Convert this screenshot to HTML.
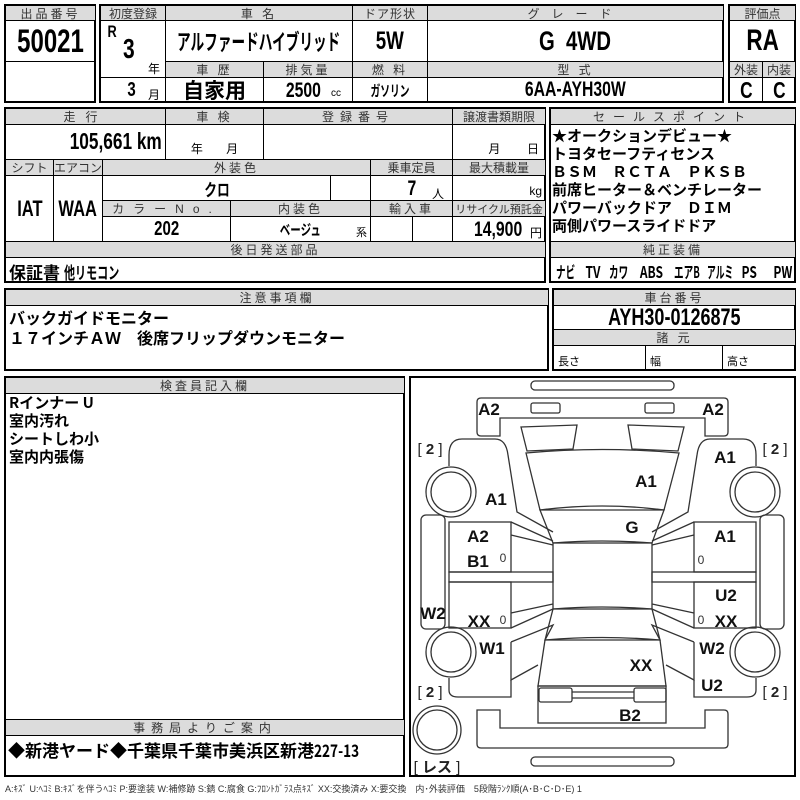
<!DOCTYPE html>
<html><head><meta charset="utf-8">
<style>
body{margin:0;width:800px;height:800px;background:#fff;position:relative;overflow:hidden;font-family:"Liberation Sans","Noto Sans CJK JP",sans-serif;}
.c{position:absolute;border:1px solid #000;box-sizing:border-box;display:flex;align-items:center;justify-content:center;white-space:nowrap;color:#000;overflow:hidden;}
.h{background:#dcdcdc;font-size:12px;color:#333;letter-spacing:3px;}
.v{font-weight:bold;}
.n{display:inline-block;transform:scaleX(0.75);font-weight:bold;}
.o{position:absolute;border:2px solid #000;box-sizing:border-box;}
.t{position:absolute;white-space:nowrap;font-weight:bold;}
</style></head><body>

<div class="o" style="left:4px;top:4px;width:92px;height:99px"></div>
<div class="o" style="left:99px;top:4px;width:625px;height:99px"></div>
<div class="o" style="left:728px;top:4px;width:68px;height:99px"></div>
<div class="o" style="left:4px;top:107px;width:542px;height:176px"></div>
<div class="o" style="left:549px;top:107px;width:247px;height:176px"></div>
<div class="o" style="left:4px;top:288px;width:545px;height:83px"></div>
<div class="o" style="left:552px;top:288px;width:244px;height:83px"></div>
<div class="o" style="left:4px;top:376px;width:401px;height:401px"></div>
<div class="o" style="left:409px;top:376px;width:387px;height:401px"></div>

<div class="c h" style="left:5px;top:5px;width:91px;height:16px">出品番号</div>
<div class="c" style="left:5px;top:20px;width:91px;height:42px;font-size:32px"><span class="n">50021</span></div>
<div class="c" style="left:5px;top:61px;width:91px;height:42px"></div>

<div class="c h" style="left:100px;top:5px;width:66px;height:16px;letter-spacing:0">初度登録</div>
<div class="c h" style="left:165px;top:5px;width:188px;height:16px">車 名</div>
<div class="c h" style="left:352px;top:5px;width:76px;height:16px;letter-spacing:1px">ドア形状</div>
<div class="c h" style="left:427px;top:5px;width:297px;height:16px;letter-spacing:12px">グレード</div>
<div class="c" style="left:100px;top:20px;width:66px;height:58px"></div>
<div class="t" style="left:106px;top:22px;font-size:17px"><span class="n">R</span></div>
<div class="t" style="left:121px;top:33px;font-size:28px"><span class="n">3</span></div>
<div class="t" style="left:148px;top:60px;font-size:12px;font-weight:normal">年</div>
<div class="c" style="left:165px;top:20px;width:188px;height:42px;font-size:22px;font-family:'Noto Sans CJK JP',sans-serif"><span class="n" style="transform:scaleX(0.62)">アルファードハイブリッド</span></div>
<div class="c" style="left:352px;top:20px;width:76px;height:42px;font-size:25px"><span class="n">5W</span></div>
<div class="c" style="left:427px;top:20px;width:297px;height:42px;font-size:27px"><span class="n">G&nbsp;&nbsp;4WD</span></div>
<div class="c h" style="left:165px;top:61px;width:99px;height:17px">車 歴</div>
<div class="c h" style="left:263px;top:61px;width:90px;height:17px">排気量</div>
<div class="c h" style="left:352px;top:61px;width:76px;height:17px">燃 料</div>
<div class="c h" style="left:427px;top:61px;width:297px;height:17px">型 式</div>
<div class="c" style="left:100px;top:77px;width:66px;height:26px"></div>
<div class="t" style="left:126px;top:79px;font-size:20px"><span class="n">3</span></div>
<div class="t" style="left:148px;top:86px;font-size:12px;font-weight:normal">月</div>
<div class="c v" style="left:165px;top:77px;width:99px;height:26px;font-size:21px;font-family:'Noto Sans CJK JP',sans-serif">自家用</div>
<div class="c" style="left:263px;top:77px;width:90px;height:26px"></div>
<div class="t" style="left:280px;top:79px;font-size:21px"><span class="n">2500</span></div>
<div class="t" style="left:331px;top:88px;font-size:10px;font-weight:normal">cc</div>
<div class="c" style="left:352px;top:77px;width:76px;height:26px;font-size:15px;font-family:'Noto Sans CJK JP',sans-serif"><span class="n" style="transform:scaleX(0.65)">ガソリン</span></div>
<div class="c" style="left:427px;top:77px;width:297px;height:26px;font-size:21px"><span class="n">6AA-AYH30W</span></div>

<div class="c h" style="left:729px;top:5px;width:67px;height:16px;letter-spacing:0">評価点</div>
<div class="c" style="left:729px;top:20px;width:67px;height:42px;font-size:30px"><span class="n">RA</span></div>
<div class="c h" style="left:729px;top:61px;width:34px;height:17px;letter-spacing:0">外装</div>
<div class="c h" style="left:762px;top:61px;width:34px;height:17px;letter-spacing:0">内装</div>
<div class="c" style="left:729px;top:77px;width:34px;height:26px;font-size:23px"><span class="n">C</span></div>
<div class="c" style="left:762px;top:77px;width:34px;height:26px;font-size:23px"><span class="n">C</span></div>

<div class="c h" style="left:5px;top:108px;width:161px;height:17px;letter-spacing:10px">走行</div>
<div class="c h" style="left:165px;top:108px;width:99px;height:17px">車 検</div>
<div class="c h" style="left:263px;top:108px;width:190px;height:17px;letter-spacing:6px">登録番号</div>
<div class="c h" style="left:452px;top:108px;width:94px;height:17px;letter-spacing:0">譲渡書類期限</div>
<div class="c" style="left:5px;top:124px;width:161px;height:36px"></div>
<div class="t" style="left:39px;top:128px;font-size:23px"><span class="n" style="transform-origin:right;">105,661 km</span></div>
<div class="c" style="left:165px;top:124px;width:99px;height:36px;font-size:12px;align-items:flex-end;padding-bottom:2px">年&nbsp;&nbsp;&nbsp;&nbsp;&nbsp;&nbsp;&nbsp;月</div>
<div class="c" style="left:263px;top:124px;width:190px;height:36px"></div>
<div class="c" style="left:452px;top:124px;width:94px;height:36px;font-size:12px;align-items:flex-end;padding-bottom:2px;justify-content:flex-end;padding-right:6px">月&nbsp;&nbsp;&nbsp;&nbsp;&nbsp;&nbsp;&nbsp;&nbsp;日</div>

<div class="c h" style="left:5px;top:159px;width:49px;height:17px;letter-spacing:0">シフト</div>
<div class="c h" style="left:53px;top:159px;width:50px;height:17px;letter-spacing:0">エアコン</div>
<div class="c h" style="left:102px;top:159px;width:269px;height:17px">外装色</div>
<div class="c h" style="left:370px;top:159px;width:83px;height:17px;letter-spacing:0">乗車定員</div>
<div class="c h" style="left:452px;top:159px;width:94px;height:17px;letter-spacing:0">最大積載量</div>
<div class="c" style="left:5px;top:175px;width:49px;height:67px;font-size:22px"><span class="n">IAT</span></div>
<div class="c" style="left:53px;top:175px;width:50px;height:67px;font-size:22px"><span class="n">WAA</span></div>
<div class="c" style="left:102px;top:175px;width:229px;height:26px;font-size:17px;font-family:'Noto Sans CJK JP',sans-serif"><span class="n">クロ</span></div>
<div class="c" style="left:330px;top:175px;width:41px;height:26px"></div>
<div class="c" style="left:370px;top:175px;width:83px;height:26px"></div>
<div class="t" style="left:406px;top:177px;font-size:21px"><span class="n">7</span></div>
<div class="t" style="left:432px;top:185px;font-size:12px;font-weight:normal">人</div>
<div class="c" style="left:452px;top:175px;width:94px;height:26px;font-size:12px;justify-content:flex-end;align-items:flex-end;padding:0 3px 2px 0">kg</div>
<div class="c h" style="left:102px;top:200px;width:129px;height:17px;letter-spacing:9px">カラーNo.</div>
<div class="c h" style="left:230px;top:200px;width:141px;height:17px">内装色</div>
<div class="c h" style="left:370px;top:200px;width:83px;height:17px">輸入車</div>
<div class="c h" style="left:452px;top:200px;width:94px;height:17px;letter-spacing:0;font-size:11px">リサイクル預託金</div>
<div class="c" style="left:102px;top:216px;width:129px;height:26px;font-size:20px"><span class="n">202</span></div>
<div class="c" style="left:230px;top:216px;width:141px;height:26px;font-size:15px;font-family:'Noto Sans CJK JP',sans-serif"><span class="n" style="transform:scaleX(0.7)">ベージュ</span></div>
<div class="t" style="left:356px;top:224px;font-size:11px;font-weight:normal">系</div>
<div class="c" style="left:370px;top:216px;width:43px;height:26px"></div>
<div class="c" style="left:412px;top:216px;width:41px;height:26px"></div>
<div class="c" style="left:452px;top:216px;width:94px;height:26px"></div>
<div class="t" style="left:466px;top:218px;font-size:21px"><span class="n">14,900</span></div>
<div class="t" style="left:530px;top:224px;font-size:12px;font-weight:normal">円</div>
<div class="c h" style="left:5px;top:241px;width:541px;height:17px">後日発送部品</div>
<div class="c" style="left:5px;top:257px;width:541px;height:26px"></div>
<div class="t" style="left:9px;top:259px;font-size:17px;font-family:'Noto Sans CJK JP',sans-serif">保証書 <span class="n" style="transform:scaleX(0.65);transform-origin:left">他リモコン</span></div>

<div class="c h" style="left:550px;top:108px;width:246px;height:17px;letter-spacing:8px">セールスポイント</div>
<div class="c" style="left:550px;top:124px;width:246px;height:118px"></div>
<div class="t" style="left:552px;top:127px;font-size:15px;line-height:18px;font-family:'Noto Sans CJK JP',sans-serif">★オークションデビュー★<br>トヨタセーフティセンス<br>ＢＳＭ　ＲＣＴＡ　ＰＫＳＢ<br>前席ヒーター＆ベンチレーター<br>パワーバックドア　ＤＩＭ<br>両側パワースライドドア</div>
<div class="c h" style="left:550px;top:241px;width:246px;height:17px">純正装備</div>
<div class="c" style="left:550px;top:257px;width:246px;height:26px"></div>
<div class="t" style="left:556px;top:259px;width:236px;font-size:16px;font-family:'Noto Sans CJK JP',sans-serif;display:flex;justify-content:space-between">
<span style="display:inline-block;width:20px"><span class="n" style="transform:scaleX(0.6);transform-origin:left">ナビ</span></span><span class="n">TV</span><span style="display:inline-block;width:20px"><span class="n" style="transform:scaleX(0.6);transform-origin:left">カワ</span></span><span class="n">ABS</span><span style="display:inline-block;width:26px"><span class="n" style="transform:scaleX(0.6);transform-origin:left">エアB</span></span><span style="display:inline-block;width:26px"><span class="n" style="transform:scaleX(0.55);transform-origin:left">アルミ</span></span><span class="n">PS</span><span class="n" style="transform-origin:right">PW</span></div>

<div class="c h" style="left:5px;top:289px;width:544px;height:17px">注意事項欄</div>
<div class="t" style="left:9px;top:307px;font-size:16px;line-height:20px;font-family:'Noto Sans CJK JP',sans-serif">バックガイドモニター<br>１７インチＡＷ　後席フリップダウンモニター</div>
<div class="c h" style="left:553px;top:289px;width:243px;height:17px">車台番号</div>
<div class="c" style="left:553px;top:305px;width:243px;height:25px;font-size:24px"><span class="n">AYH30-0126875</span></div>
<div class="c h" style="left:553px;top:329px;width:243px;height:17px">諸 元</div>
<div class="c" style="left:553px;top:345px;width:93px;height:26px;font-size:11px;justify-content:flex-start;padding:6px 0 0 4px">長さ</div>
<div class="c" style="left:645px;top:345px;width:78px;height:26px;font-size:11px;justify-content:flex-start;padding:6px 0 0 4px">幅</div>
<div class="c" style="left:722px;top:345px;width:74px;height:26px;font-size:11px;justify-content:flex-start;padding:6px 0 0 4px">高さ</div>

<div class="c h" style="left:5px;top:377px;width:400px;height:17px">検査員記入欄</div>
<div class="t" style="left:9px;top:394px;font-size:15px;line-height:18px;font-family:'Noto Sans CJK JP',sans-serif">Rインナー U<br>室内汚れ<br>シートしわ小<br>室内内張傷</div>
<div class="c h" style="left:5px;top:719px;width:400px;height:17px;letter-spacing:6px">事務局よりご案内</div>
<div class="t" style="left:8px;top:737px;font-size:17px;font-family:'Noto Sans CJK JP',sans-serif">◆新港ヤード◆千葉県千葉市美浜区新港<span class="n" style="transform:scaleX(0.8);transform-origin:left">227-13</span></div>

<div class="t" style="left:5px;top:782px;font-size:9px;font-weight:normal;color:#333">A:ｷｽﾞ U:ﾍｺﾐ B:ｷｽﾞを伴うﾍｺﾐ P:要塗装 W:補修跡 S:錆 C:腐食 G:ﾌﾛﾝﾄｶﾞﾗｽ点ｷｽﾞ XX:交換済み X:要交換　内･外装評価　5段階ﾗﾝｸ順(A･B･C･D･E) 1</div>

<svg width="800" height="800" style="position:absolute;left:0;top:0" xmlns="http://www.w3.org/2000/svg">
<g fill="none" stroke="#333" stroke-width="1.3">
<rect x="531" y="381" width="143" height="9" rx="4"/>
<path d="M481,398 H724 Q728,398 728,402 V432 Q728,436 724,436 H705 V418 H500 V436 H481 Q477,436 477,432 V402 Q477,398 481,398 Z"/>
<rect x="531" y="403" width="29" height="10" rx="2"/>
<rect x="645" y="403" width="29" height="10" rx="2"/>
<path d="M521,427 L577,425 L573,449 L527,451 Z"/>
<path d="M684,427 L628,425 L632,449 L678,451 Z"/>
<path d="M526,453 Q602,446 679,453 L664,510 Q602,502 540,510 Z"/>
<path d="M540,510 L664,510 L652,543 Q602,539 553,543 Z"/>
<rect x="553" y="543" width="99" height="66"/>
<path d="M553,609 Q602,605 652,609 L660,640 Q602,635 545,640 Z"/>
<path d="M545,640 L660,640 L666,686 L538,686 Z"/>
<rect x="538" y="686" width="128" height="37"/>
<rect x="539" y="688" width="33" height="14" rx="2"/>
<rect x="634" y="688" width="32" height="14" rx="2"/>
<line x1="572" y1="692" x2="634" y2="692"/>
<line x1="572" y1="698" x2="634" y2="698"/>
<path d="M477,710 H500 V728 H705 V710 H724 Q728,710 728,714 V744 Q728,748 724,748 H481 Q477,748 477,744 Z"/>
<rect x="531" y="757" width="143" height="9" rx="4"/>
<path d="M449,466 V455 Q449,439 462,439 H495 Q506,439 508,455 L517,512 L553,532"/>
<rect x="449" y="522" width="62" height="50"/>
<rect x="449" y="572" width="104" height="10"/>
<rect x="449" y="582" width="62" height="46"/>
<path d="M511,522 L553,541 M511,535 L553,545"/>
<path d="M511,628 L553,609 M511,613 L553,604"/>
<path d="M511,642 L553,625 L545,640 M511,642 V680 L538,665"/>
<path d="M449,678 V690 Q449,697 458,697 H511 V680"/>
<path d="M756,466 V455 Q756,439 743,439 H710 Q699,439 697,455 L688,512 L652,532"/>
<rect x="694" y="522" width="62" height="50"/>
<rect x="652" y="572" width="104" height="10"/>
<rect x="694" y="582" width="62" height="46"/>
<path d="M694,522 L652,541 M694,535 L652,545"/>
<path d="M694,628 L652,609 M694,613 L652,604"/>
<path d="M694,642 L652,625 L660,640 M694,642 V680 L666,665"/>
<path d="M756,678 V690 Q756,697 747,697 H694 V680"/>
<rect x="421" y="515" width="24" height="114" rx="5"/>
<rect x="760" y="515" width="24" height="114" rx="5"/>
<circle cx="451" cy="492" r="25"/><circle cx="451" cy="492" r="20"/>
<circle cx="451" cy="652" r="25"/><circle cx="451" cy="652" r="20"/>
<circle cx="755" cy="492" r="25"/><circle cx="755" cy="492" r="20"/>
<circle cx="755" cy="652" r="25"/><circle cx="755" cy="652" r="20"/>
<circle cx="437" cy="730" r="24"/><circle cx="437" cy="730" r="20"/>
</g>
<g font-family="Liberation Sans, sans-serif" font-weight="bold" font-size="17" fill="#111" text-anchor="middle">
<text x="489" y="415">A2</text><text x="713" y="415">A2</text>
<text x="725" y="463">A1</text><text x="646" y="487">A1</text><text x="496" y="505">A1</text>
<text x="632" y="533">G</text>
<text x="478" y="542">A2</text><text x="478" y="567">B1</text>
<text x="725" y="542">A1</text>
<text x="726" y="601">U2</text><text x="726" y="627">XX</text>
<text x="433" y="619">W2</text><text x="479" y="627">XX</text>
<text x="492" y="654">W1</text><text x="712" y="654">W2</text>
<text x="641" y="671">XX</text><text x="712" y="691">U2</text>
<text x="630" y="721">B2</text>
</g>
<g font-family="Liberation Sans, sans-serif" font-size="12" fill="#333" text-anchor="middle">
<text x="503" y="562">0</text><text x="503" y="624">0</text>
<text x="701" y="564">0</text><text x="701" y="624">0</text>
</g>
<g font-family="Liberation Sans, 'Noto Sans CJK JP', sans-serif" font-size="15" fill="#222" text-anchor="middle">
<text x="430" y="454">[ <tspan font-weight="bold">2</tspan> ]</text>
<text x="775" y="454">[ <tspan font-weight="bold">2</tspan> ]</text>
<text x="430" y="697">[ <tspan font-weight="bold">2</tspan> ]</text>
<text x="775" y="697">[ <tspan font-weight="bold">2</tspan> ]</text>
<text x="437" y="772">[ <tspan font-weight="bold">レス</tspan> ]</text>
</g>
</svg>
</body></html>
